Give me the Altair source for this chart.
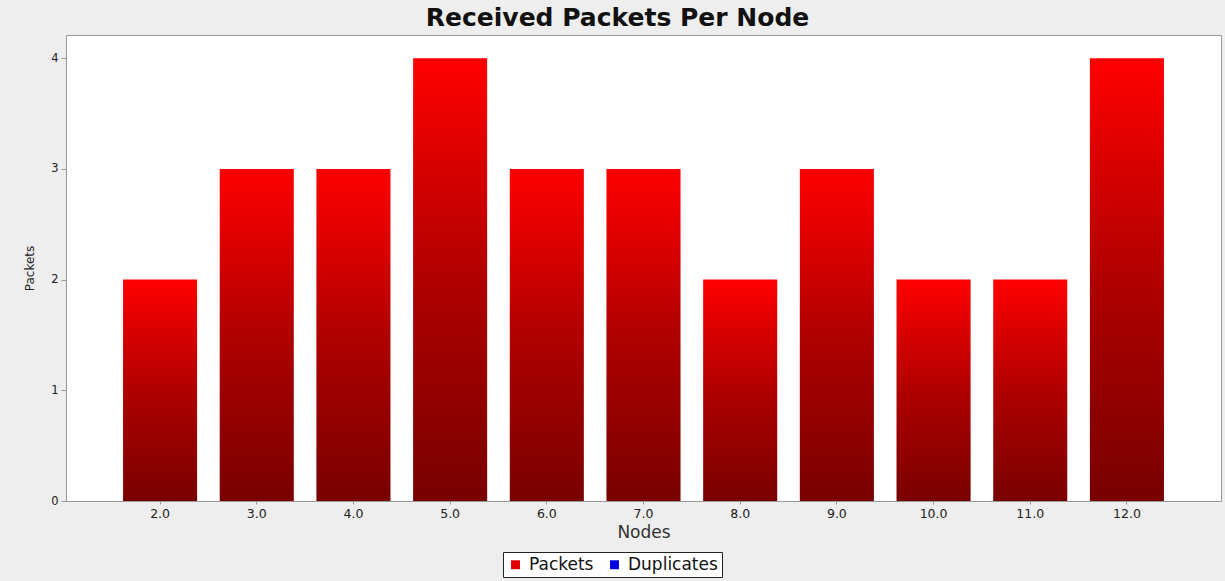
import altair as alt
import pandas as pd

nodes = ["2.0", "3.0", "4.0", "5.0", "6.0", "7.0", "8.0", "9.0", "10.0", "11.0", "12.0"]
packets = [2, 3, 3, 4, 3, 3, 2, 3, 2, 2, 4]
duplicates = [0, 0, 0, 0, 0, 0, 0, 0, 0, 0, 0]
series = ["Packets", "Duplicates"]
series_colors = ["#e00000", "#0000e0"]

rows = []
for n, p, d in zip(nodes, packets, duplicates):
    rows.append({"node": n, "series": "Packets", "value": p})
    rows.append({"node": n, "series": "Duplicates", "value": d})
df = pd.DataFrame(rows)

FONT = "DejaVu Sans"

x_enc = alt.X("node:N", sort=nodes, title="Nodes",
              scale=alt.Scale(paddingInner=0.234, paddingOuter=0.59),
              axis=alt.Axis(labelAngle=0, labelFontSize=12.5, labelColor="#222222",
                            titleFontSize=17, titleFontWeight="normal", titleColor="#333333",
                            titlePadding=5, tickSize=3, tickColor="#999999",
                            domainColor="#999999", labelPadding=3))
y_scale = alt.Scale(domain=[0, 4.21], nice=False)
y_enc = alt.Y("value:Q", title="Packets", scale=y_scale,
              axis=alt.Axis(values=[0, 1, 2, 3, 4], format="d", grid=False,
                            labelFontSize=11.5, labelColor="#222222",
                            titleFontSize=12, titleFontWeight="normal", titleColor="#222222",
                            titlePadding=14, tickSize=5, tickColor="#999999",
                            domainColor="#999999", labelPadding=3))

gradient = alt.Gradient(
    gradient="linear",
    stops=[alt.GradientStop(color="#ff0000", offset=0),
           alt.GradientStop(color="#b00000", offset=0.5),
           alt.GradientStop(color="#780000", offset=1)],
    x1=0, x2=0, y1=0, y2=1,
)

bars = alt.Chart(df).transform_filter(alt.datum.series == "Packets").mark_bar(
    fill=gradient
).encode(x=x_enc, y=y_enc)

legend_layer = alt.Chart(df).mark_point(shape="square", filled=True, opacity=0).encode(
    x=alt.X("node:N", sort=nodes),
    y=alt.Y("value:Q", scale=y_scale),
    color=alt.Color("series:N", sort=series,
                    scale=alt.Scale(domain=series, range=series_colors),
                    legend=alt.Legend(title=None, orient="none", direction="horizontal",
                                      legendX=437, legendY=517,
                                      symbolType="square", symbolSize=80, symbolOpacity=1,
                                      labelFontSize=17, labelColor="#111111",
                                      strokeColor="#222222", padding=4,
                                      columnPadding=12, labelOffset=5,
                                      fillColor="#ffffff")),
)

chart = alt.layer(bars, legend_layer).properties(
    width=1155, height=466,
    title=alt.Title("Received Packets Per Node", fontSize=25, fontWeight="bold",
                    font=FONT, color="#111111", anchor="middle", dx=-26, offset=4),
    background="#eeeeee",
    padding={"left": 66, "top": 35, "right": 4, "bottom": 80},
    autosize=alt.AutoSizeParams(type="none"),
).configure(font=FONT).configure_view(stroke="#999999", fill="#ffffff")

chart.save("out.html", embed_options={"renderer": "svg", "actions": False})
